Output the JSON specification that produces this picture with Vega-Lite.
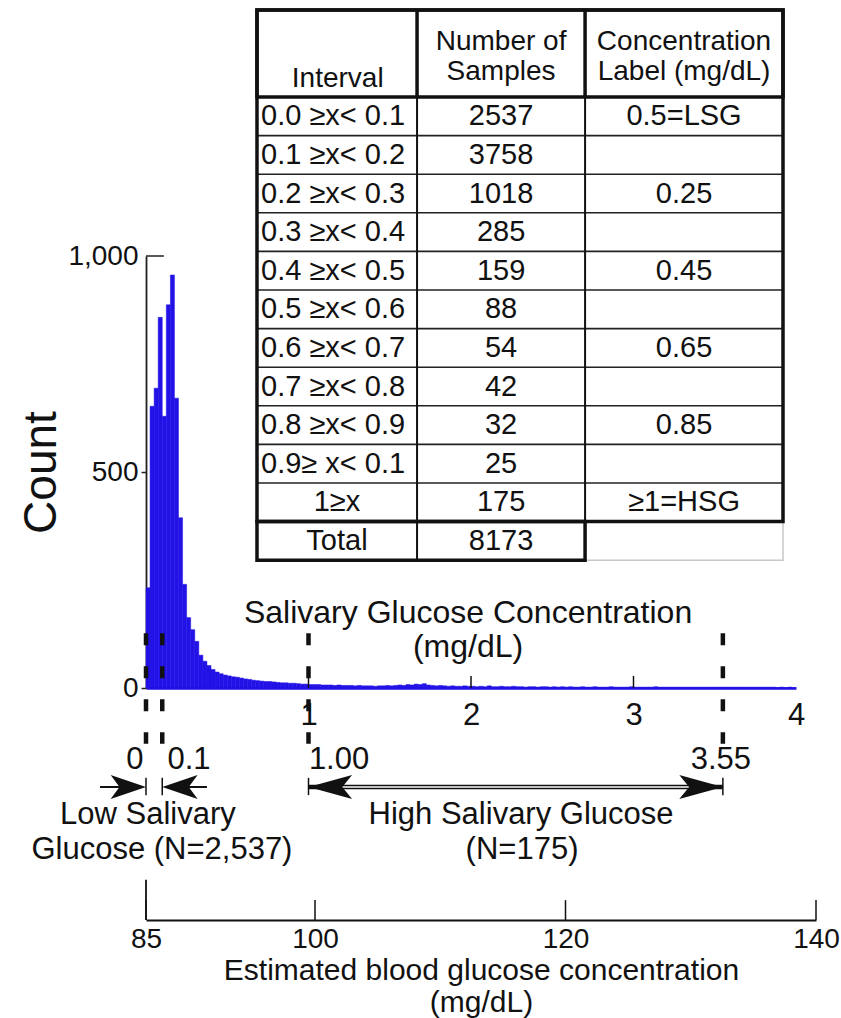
{
"$schema":"https://vega.github.io/schema/vega-lite/v6.json",
"width":650,"height":432,
"autosize":{"type":"none"},
"padding":{"left":146,"top":256,"right":45,"bottom":330},
"background":"#ffffff",
"config":{"view":{"stroke":null},"font":"Liberation Sans","text":{"font":"Liberation Sans","color":"#111111"},"axis":{"grid":false,"labelFont":"Liberation Sans","titleFont":"Liberation Sans","labelColor":"#111111","titleColor":"#111111","titleFontWeight":"normal"}},
"data":{"values":[{}]},
"datasets":{
"hist":[
{"s":0,"e":0.025,"c":232},{"s":0.025,"e":0.05,"c":652},{"s":0.05,"e":0.075,"c":694},{"s":0.075,"e":0.1,"c":858},
{"s":0.1,"e":0.125,"c":629},{"s":0.125,"e":0.15,"c":887},{"s":0.15,"e":0.175,"c":956},{"s":0.175,"e":0.2,"c":671},
{"s":0.2,"e":0.225,"c":394},{"s":0.225,"e":0.25,"c":240},{"s":0.25,"e":0.275,"c":163},{"s":0.275,"e":0.3,"c":135},
{"s":0.3,"e":0.325,"c":108},{"s":0.325,"e":0.35,"c":76},{"s":0.35,"e":0.375,"c":62},{"s":0.375,"e":0.4,"c":52},
{"s":0.4,"e":0.425,"c":43},{"s":0.425,"e":0.45,"c":37},{"s":0.45,"e":0.475,"c":33},{"s":0.475,"e":0.5,"c":30},
{"s":0.5,"e":0.525,"c":28},{"s":0.525,"e":0.55,"c":26},{"s":0.55,"e":0.575,"c":25},{"s":0.575,"e":0.6,"c":23},
{"s":0.6,"e":0.625,"c":21},{"s":0.625,"e":0.65,"c":20},{"s":0.65,"e":0.675,"c":18},{"s":0.675,"e":0.7,"c":17},
{"s":0.7,"e":0.725,"c":16},{"s":0.725,"e":0.75,"c":15},{"s":0.75,"e":0.775,"c":15},{"s":0.775,"e":0.8,"c":14},
{"s":0.8,"e":0.825,"c":13},{"s":0.825,"e":0.85,"c":12},{"s":0.85,"e":0.875,"c":12},{"s":0.875,"e":0.9,"c":11},
{"s":0.9,"e":0.925,"c":11},{"s":0.925,"e":0.95,"c":10},{"s":0.95,"e":0.975,"c":9},{"s":0.975,"e":1,"c":9},
{"s":1,"e":1.025,"c":8},{"s":1.025,"e":1.05,"c":8},{"s":1.05,"e":1.075,"c":8},{"s":1.075,"e":1.1,"c":7},
{"s":1.1,"e":1.125,"c":7},{"s":1.125,"e":1.15,"c":7},{"s":1.15,"e":1.175,"c":6},{"s":1.175,"e":1.2,"c":7},
{"s":1.2,"e":1.225,"c":6},{"s":1.225,"e":1.25,"c":6},{"s":1.25,"e":1.275,"c":6},{"s":1.275,"e":1.3,"c":5},
{"s":1.3,"e":1.325,"c":6},{"s":1.325,"e":1.35,"c":5},{"s":1.35,"e":1.375,"c":5},{"s":1.375,"e":1.4,"c":5},
{"s":1.4,"e":1.425,"c":4},{"s":1.425,"e":1.45,"c":5},{"s":1.45,"e":1.475,"c":5},{"s":1.475,"e":1.5,"c":6},
{"s":1.5,"e":1.525,"c":5},{"s":1.525,"e":1.55,"c":6},{"s":1.55,"e":1.575,"c":7},{"s":1.575,"e":1.6,"c":6},
{"s":1.6,"e":1.625,"c":8},{"s":1.625,"e":1.65,"c":7},{"s":1.65,"e":1.675,"c":9},{"s":1.675,"e":1.7,"c":8},
{"s":1.7,"e":1.725,"c":10},{"s":1.725,"e":1.75,"c":7},{"s":1.75,"e":1.775,"c":6},{"s":1.775,"e":1.8,"c":5},
{"s":1.8,"e":1.825,"c":6},{"s":1.825,"e":1.85,"c":5},{"s":1.85,"e":1.875,"c":4},{"s":1.875,"e":1.9,"c":5},
{"s":1.9,"e":1.925,"c":4},{"s":1.925,"e":1.95,"c":4},{"s":1.95,"e":1.975,"c":5},{"s":1.975,"e":2,"c":4},
{"s":2,"e":2.025,"c":4},{"s":2.025,"e":2.05,"c":3},{"s":2.05,"e":2.075,"c":4},{"s":2.075,"e":2.1,"c":3},
{"s":2.1,"e":2.125,"c":5},{"s":2.125,"e":2.15,"c":3},{"s":2.15,"e":2.175,"c":3},{"s":2.175,"e":2.2,"c":4},
{"s":2.2,"e":2.225,"c":3},{"s":2.225,"e":2.25,"c":3},{"s":2.25,"e":2.275,"c":4},{"s":2.275,"e":2.3,"c":3},
{"s":2.3,"e":2.325,"c":3},{"s":2.325,"e":2.35,"c":2},{"s":2.35,"e":2.375,"c":3},{"s":2.375,"e":2.4,"c":3},
{"s":2.4,"e":2.425,"c":2},{"s":2.425,"e":2.45,"c":3},{"s":2.45,"e":2.475,"c":3},{"s":2.475,"e":2.5,"c":2},
{"s":2.5,"e":2.525,"c":3},{"s":2.525,"e":2.55,"c":2},{"s":2.55,"e":2.575,"c":3},{"s":2.575,"e":2.6,"c":2},
{"s":2.6,"e":2.625,"c":3},{"s":2.625,"e":2.65,"c":2},{"s":2.65,"e":2.675,"c":2},{"s":2.675,"e":2.7,"c":3},
{"s":2.7,"e":2.725,"c":2},{"s":2.725,"e":2.75,"c":2},{"s":2.75,"e":2.775,"c":3},{"s":2.775,"e":2.8,"c":2},
{"s":2.8,"e":2.825,"c":2},{"s":2.825,"e":2.85,"c":2},{"s":2.85,"e":2.875,"c":3},{"s":2.875,"e":2.9,"c":2},
{"s":2.9,"e":2.925,"c":2},{"s":2.925,"e":2.95,"c":2},{"s":2.95,"e":2.975,"c":2},{"s":2.975,"e":3,"c":3},
{"s":3,"e":3.025,"c":2},{"s":3.025,"e":3.05,"c":2},{"s":3.05,"e":3.075,"c":2},{"s":3.075,"e":3.1,"c":2},
{"s":3.1,"e":3.125,"c":2},{"s":3.125,"e":3.15,"c":3},{"s":3.15,"e":3.175,"c":2},{"s":3.175,"e":3.2,"c":2},
{"s":3.2,"e":3.225,"c":2},{"s":3.225,"e":3.25,"c":2},{"s":3.25,"e":3.275,"c":2},{"s":3.275,"e":3.3,"c":2},
{"s":3.3,"e":3.325,"c":2},{"s":3.325,"e":3.35,"c":2},{"s":3.35,"e":3.375,"c":2},{"s":3.375,"e":3.4,"c":2},
{"s":3.4,"e":3.425,"c":2},{"s":3.425,"e":3.45,"c":2},{"s":3.45,"e":3.475,"c":2},{"s":3.475,"e":3.5,"c":2},
{"s":3.5,"e":3.525,"c":2},{"s":3.525,"e":3.55,"c":2},{"s":3.55,"e":3.575,"c":2},{"s":3.575,"e":3.6,"c":2},
{"s":3.6,"e":3.625,"c":2},{"s":3.625,"e":3.65,"c":2},{"s":3.65,"e":3.675,"c":2},{"s":3.675,"e":3.7,"c":2},
{"s":3.7,"e":3.725,"c":2},{"s":3.725,"e":3.75,"c":2},{"s":3.75,"e":3.775,"c":2},{"s":3.775,"e":3.8,"c":2},
{"s":3.8,"e":3.825,"c":2},{"s":3.825,"e":3.85,"c":2},{"s":3.85,"e":3.875,"c":2},{"s":3.875,"e":3.9,"c":1},
{"s":3.9,"e":3.925,"c":2},{"s":3.925,"e":3.95,"c":1},{"s":3.95,"e":3.975,"c":2},{"s":3.975,"e":4,"c":1}
],
"cuts":[{"v":0},{"v":0.1},{"v":1},{"v":3.55}],
"xticks":[{"t":1},{"t":2},{"t":3}],
"bticks":[{"bg":85},{"bg":100},{"bg":120},{"bg":140}],
"tbl":[
{"r":1,"interval":"0.0 ≥x< 0.1","n":"2537","label":"0.5=LSG"},
{"r":2,"interval":"0.1 ≥x< 0.2","n":"3758","label":""},
{"r":3,"interval":"0.2 ≥x< 0.3","n":"1018","label":"0.25"},
{"r":4,"interval":"0.3 ≥x< 0.4","n":"285","label":""},
{"r":5,"interval":"0.4 ≥x< 0.5","n":"159","label":"0.45"},
{"r":6,"interval":"0.5 ≥x< 0.6","n":"88","label":""},
{"r":7,"interval":"0.6 ≥x< 0.7","n":"54","label":"0.65"},
{"r":8,"interval":"0.7 ≥x< 0.8","n":"42","label":""},
{"r":9,"interval":"0.8 ≥x< 0.9","n":"32","label":"0.85"},
{"r":10,"interval":"0.9≥ x< 0.1","n":"25","label":""},
{"r":11,"interval":"1≥x","n":"175","label":"≥1=HSG"},
{"r":12,"interval":"Total","n":"8173","label":""}
]
},
"layer":[
{"layer":[
{"data":{"name":"hist"},"mark":{"type":"rect","color":"#2212e6","stroke":"#2212e6","strokeWidth":0.5},
 "encoding":{
  "x":{"field":"s","type":"quantitative","scale":{"domain":[0,4],"nice":false,"zero":false},
       "axis":{"values":[1,2,3,4],"labelExpr":"format(datum.value, 'd')","ticks":false,"domainColor":"#2212e6","domainWidth":2.5,"labelFontSize":31,"labelPadding":12,"labelFlush":false,"labelAngle":0,"title":null}},
  "x2":{"field":"e"},
  "y":{"field":"c","type":"quantitative","scale":{"domain":[0,1000],"nice":false,"zero":false},
       "axis":{"values":[0,500,1000],"labelExpr":"format(datum.value, ',')","tickSize":5,"tickWidth":1.5,"tickColor":"#222222","domainColor":"#222222","domainWidth":1.8,"labelFontSize":28,"labelPadding":3,"title":"Count","titleFontSize":46,"titlePadding":2,"tickOpacity":{"condition":{"test":"datum.value === 1000","value":0},"value":1}}},
  "y2":{"datum":0}
 }},
{"mark":{"type":"rule","color":"#222222","strokeWidth":1.5},"encoding":{"x":{"datum":0,"type":"quantitative","scale":{"domain":[0,4],"nice":false,"zero":false}},"x2":{"datum":0.11},"y":{"datum":1000,"type":"quantitative","scale":{"domain":[0,1000],"nice":false,"zero":false}}}},
{"data":{"name":"xticks"},"mark":{"type":"rule","color":"#111111","strokeWidth":1.5},"encoding":{"x":{"field":"t","type":"quantitative","title":null,"scale":{"domain":[0,4],"nice":false,"zero":false}},"y":{"datum":0,"type":"quantitative","scale":{"domain":[0,1000],"nice":false,"zero":false}},"y2":{"datum":28}}},
{"data":{"name":"cuts"},"mark":{"type":"rule","color":"#111111","strokeWidth":4.5,"strokeDash":[12,21]},"encoding":{"x":{"field":"v","type":"quantitative","title":null,"scale":{"domain":[0,4],"nice":false,"zero":false}},"y":{"datum":127,"type":"quantitative","scale":{"domain":[0,1000],"nice":false,"zero":false}},"y2":{"datum":-129}}},
{"data":{"name":"cuts"},"mark":{"type":"rule","color":"#111111","strokeWidth":1.5},"encoding":{"x":{"field":"v","type":"quantitative","title":null,"scale":{"domain":[0,4],"nice":false,"zero":false}},"y":{"datum":-208,"type":"quantitative","scale":{"domain":[0,1000],"nice":false,"zero":false}},"y2":{"datum":-248}}},
{"mark":{"type":"rule","color":"#111111","strokeWidth":2},"encoding":{"x":{"datum":-0.283,"type":"quantitative","scale":{"domain":[0,4],"nice":false,"zero":false}},"x2":{"datum":-0.03},"y":{"datum":-229.2,"type":"quantitative","scale":{"domain":[0,1000],"nice":false,"zero":false}}}},
{"mark":{"type":"rule","color":"#111111","strokeWidth":2},"encoding":{"x":{"datum":0.13,"type":"quantitative","scale":{"domain":[0,4],"nice":false,"zero":false}},"x2":{"datum":0.375},"y":{"datum":-229.2,"type":"quantitative","scale":{"domain":[0,1000],"nice":false,"zero":false}}}},
{"mark":{"type":"rule","color":"#111111","strokeWidth":4.5},"encoding":{"x":{"datum":1.0,"type":"quantitative","scale":{"domain":[0,4],"nice":false,"zero":false}},"x2":{"datum":3.55},"y":{"datum":-229.2,"type":"quantitative","scale":{"domain":[0,1000],"nice":false,"zero":false}}}},
{"mark":{"type":"rule","color":"#ffffff","strokeWidth":1.4},"encoding":{"x":{"datum":1.2,"type":"quantitative","scale":{"domain":[0,4],"nice":false,"zero":false}},"x2":{"datum":3.35},"y":{"datum":-229.2,"type":"quantitative","scale":{"domain":[0,1000],"nice":false,"zero":false}}}},
{"mark":{"type":"point","filled":true,"opacity":1,"color":"#111111","size":1250,"shape":"M0,0L-2,-0.68L-1.5,0L-2,0.68Z"},"encoding":{"x":{"datum":0,"type":"quantitative","scale":{"domain":[0,4],"nice":false,"zero":false}},"y":{"datum":-229.2,"type":"quantitative","scale":{"domain":[0,1000],"nice":false,"zero":false}}}},
{"mark":{"type":"point","filled":true,"opacity":1,"color":"#111111","size":1250,"shape":"M0,0L2,-0.68L1.5,0L2,0.68Z"},"encoding":{"x":{"datum":0.1,"type":"quantitative","scale":{"domain":[0,4],"nice":false,"zero":false}},"y":{"datum":-229.2,"type":"quantitative","scale":{"domain":[0,1000],"nice":false,"zero":false}}}},
{"mark":{"type":"point","filled":true,"opacity":1,"color":"#111111","size":1900,"shape":"M0,0L2,-0.55L1.55,0L2,0.55Z"},"encoding":{"x":{"datum":1.0,"type":"quantitative","scale":{"domain":[0,4],"nice":false,"zero":false}},"y":{"datum":-229.2,"type":"quantitative","scale":{"domain":[0,1000],"nice":false,"zero":false}}}},
{"mark":{"type":"point","filled":true,"opacity":1,"color":"#111111","size":1900,"shape":"M0,0L-2,-0.55L-1.55,0L-2,0.55Z"},"encoding":{"x":{"datum":3.55,"type":"quantitative","scale":{"domain":[0,4],"nice":false,"zero":false}},"y":{"datum":-229.2,"type":"quantitative","scale":{"domain":[0,1000],"nice":false,"zero":false}}}},
{"mark":{"type":"text","text":"Salivary Glucose Concentration","fontSize":32,"align":"center","baseline":"middle"},"encoding":{"x":{"datum":1.982,"type":"quantitative","scale":{"domain":[0,4],"nice":false,"zero":false}},"y":{"datum":172.5,"type":"quantitative","scale":{"domain":[0,1000],"nice":false,"zero":false}}}},
{"mark":{"type":"text","text":"(mg/dL)","fontSize":32,"align":"center","baseline":"middle"},"encoding":{"x":{"datum":1.982,"type":"quantitative","scale":{"domain":[0,4],"nice":false,"zero":false}},"y":{"datum":94,"type":"quantitative","scale":{"domain":[0,1000],"nice":false,"zero":false}}}},
{"mark":{"type":"text","text":"0","fontSize":31,"align":"center","baseline":"middle"},"encoding":{"x":{"datum":-0.068,"type":"quantitative","scale":{"domain":[0,4],"nice":false,"zero":false}},"y":{"datum":-166.7,"type":"quantitative","scale":{"domain":[0,1000],"nice":false,"zero":false}}}},
{"mark":{"type":"text","text":"0.1","fontSize":31,"align":"center","baseline":"middle"},"encoding":{"x":{"datum":0.265,"type":"quantitative","scale":{"domain":[0,4],"nice":false,"zero":false}},"y":{"datum":-166.7,"type":"quantitative","scale":{"domain":[0,1000],"nice":false,"zero":false}}}},
{"mark":{"type":"text","text":"1.00","fontSize":31,"align":"center","baseline":"middle"},"encoding":{"x":{"datum":1.188,"type":"quantitative","scale":{"domain":[0,4],"nice":false,"zero":false}},"y":{"datum":-166.7,"type":"quantitative","scale":{"domain":[0,1000],"nice":false,"zero":false}}}},
{"mark":{"type":"text","text":"3.55","fontSize":31,"align":"center","baseline":"middle"},"encoding":{"x":{"datum":3.538,"type":"quantitative","scale":{"domain":[0,4],"nice":false,"zero":false}},"y":{"datum":-166.7,"type":"quantitative","scale":{"domain":[0,1000],"nice":false,"zero":false}}}},
{"mark":{"type":"text","text":"Low Salivary","fontSize":31,"align":"center","baseline":"middle"},"encoding":{"x":{"datum":0.012,"type":"quantitative","scale":{"domain":[0,4],"nice":false,"zero":false}},"y":{"datum":-294,"type":"quantitative","scale":{"domain":[0,1000],"nice":false,"zero":false}}}},
{"mark":{"type":"text","text":"Glucose (N=2,537)","fontSize":31,"align":"center","baseline":"middle"},"encoding":{"x":{"datum":0.098,"type":"quantitative","scale":{"domain":[0,4],"nice":false,"zero":false}},"y":{"datum":-375,"type":"quantitative","scale":{"domain":[0,1000],"nice":false,"zero":false}}}},
{"mark":{"type":"text","text":"High Salivary Glucose","fontSize":31,"align":"center","baseline":"middle"},"encoding":{"x":{"datum":2.308,"type":"quantitative","scale":{"domain":[0,4],"nice":false,"zero":false}},"y":{"datum":-294,"type":"quantitative","scale":{"domain":[0,1000],"nice":false,"zero":false}}}},
{"mark":{"type":"text","text":"(N=175)","fontSize":31,"align":"center","baseline":"middle"},"encoding":{"x":{"datum":2.314,"type":"quantitative","scale":{"domain":[0,4],"nice":false,"zero":false}},"y":{"datum":-375,"type":"quantitative","scale":{"domain":[0,1000],"nice":false,"zero":false}}}}
]},
{"layer":[
{"mark":{"type":"rect","fillOpacity":0,"stroke":"#c8c8c8","strokeWidth":1.5},"encoding":{"x":{"datum":2.702,"type":"quantitative","scale":{"domain":[0,4],"nice":false,"zero":false},"axis":null},"x2":{"datum":3.92},"y":{"datum":11.5,"type":"quantitative","scale":{"domain":[4.619,15.811],"reverse":true,"nice":false,"zero":false},"axis":null},"y2":{"datum":12.5}}},
{"data":{"name":"tbl"},"transform":[{"filter":"datum.r <= 10"}],"mark":{"type":"rule","color":"#222222","strokeWidth":1.6,"yOffset":19.3,"y2Offset":19.3},"encoding":{"x":{"datum":0.683,"type":"quantitative","scale":{"domain":[0,4],"nice":false,"zero":false},"axis":null},"x2":{"datum":3.92},"y":{"field":"r","type":"quantitative","scale":{"domain":[4.619,15.811],"reverse":true,"nice":false,"zero":false},"axis":null},"y2":{"field":"r"}}},
{"mark":{"type":"rule","color":"#111111","strokeWidth":2},"encoding":{"x":{"datum":1.668,"type":"quantitative","scale":{"domain":[0,4],"nice":false,"zero":false},"axis":null},"y":{"datum":0.5,"type":"quantitative","scale":{"domain":[4.619,15.811],"reverse":true,"nice":false,"zero":false},"axis":null},"y2":{"datum":12.5}}},
{"mark":{"type":"rule","color":"#111111","strokeWidth":2},"encoding":{"x":{"datum":2.702,"type":"quantitative","scale":{"domain":[0,4],"nice":false,"zero":false},"axis":null},"y":{"datum":0.5,"type":"quantitative","scale":{"domain":[4.619,15.811],"reverse":true,"nice":false,"zero":false},"axis":null},"y2":{"datum":11.5}}},
{"mark":{"type":"rect","fillOpacity":0,"stroke":"#111111","strokeWidth":3.5},"encoding":{"x":{"datum":0.683,"type":"quantitative","scale":{"domain":[0,4],"nice":false,"zero":false},"axis":null},"x2":{"datum":3.92},"y":{"datum":-1.754,"type":"quantitative","scale":{"domain":[4.619,15.811],"reverse":true,"nice":false,"zero":false},"axis":null},"y2":{"datum":11.5}}},
{"mark":{"type":"rect","fillOpacity":0,"stroke":"#111111","strokeWidth":3.5},"encoding":{"x":{"datum":0.683,"type":"quantitative","scale":{"domain":[0,4],"nice":false,"zero":false},"axis":null},"x2":{"datum":3.92},"y":{"datum":-1.754,"type":"quantitative","scale":{"domain":[4.619,15.811],"reverse":true,"nice":false,"zero":false},"axis":null},"y2":{"datum":0.5}}},
{"mark":{"type":"rect","fillOpacity":0,"stroke":"#111111","strokeWidth":3.5},"encoding":{"x":{"datum":0.683,"type":"quantitative","scale":{"domain":[0,4],"nice":false,"zero":false},"axis":null},"x2":{"datum":2.702},"y":{"datum":11.5,"type":"quantitative","scale":{"domain":[4.619,15.811],"reverse":true,"nice":false,"zero":false},"axis":null},"y2":{"datum":12.5}}},
{"mark":{"type":"rule","color":"#111111","strokeWidth":3.5},"encoding":{"x":{"datum":1.668,"type":"quantitative","scale":{"domain":[0,4],"nice":false,"zero":false},"axis":null},"y":{"datum":-1.754,"type":"quantitative","scale":{"domain":[4.619,15.811],"reverse":true,"nice":false,"zero":false},"axis":null},"y2":{"datum":0.5}}},
{"mark":{"type":"rule","color":"#111111","strokeWidth":3.5},"encoding":{"x":{"datum":2.702,"type":"quantitative","scale":{"domain":[0,4],"nice":false,"zero":false},"axis":null},"y":{"datum":-1.754,"type":"quantitative","scale":{"domain":[4.619,15.811],"reverse":true,"nice":false,"zero":false},"axis":null},"y2":{"datum":0.5}}},
{"mark":{"type":"text","text":"Interval","fontSize":28,"align":"center","baseline":"alphabetic"},"encoding":{"x":{"datum":1.18,"type":"quantitative","scale":{"domain":[0,4],"nice":false,"zero":false},"axis":null},"y":{"datum":0.24,"type":"quantitative","scale":{"domain":[4.619,15.811],"reverse":true,"nice":false,"zero":false},"axis":null}}},
{"mark":{"type":"text","text":"Number of","fontSize":28,"align":"center","baseline":"alphabetic"},"encoding":{"x":{"datum":2.185,"type":"quantitative","scale":{"domain":[0,4],"nice":false,"zero":false},"axis":null},"y":{"datum":-0.718,"type":"quantitative","scale":{"domain":[4.619,15.811],"reverse":true,"nice":false,"zero":false},"axis":null}}},
{"mark":{"type":"text","text":"Samples","fontSize":28,"align":"center","baseline":"alphabetic"},"encoding":{"x":{"datum":2.185,"type":"quantitative","scale":{"domain":[0,4],"nice":false,"zero":false},"axis":null},"y":{"datum":0.06,"type":"quantitative","scale":{"domain":[4.619,15.811],"reverse":true,"nice":false,"zero":false},"axis":null}}},
{"mark":{"type":"text","text":"Concentration","fontSize":28,"align":"center","baseline":"alphabetic"},"encoding":{"x":{"datum":3.311,"type":"quantitative","scale":{"domain":[0,4],"nice":false,"zero":false},"axis":null},"y":{"datum":-0.718,"type":"quantitative","scale":{"domain":[4.619,15.811],"reverse":true,"nice":false,"zero":false},"axis":null}}},
{"mark":{"type":"text","text":"Label (mg/dL)","fontSize":28,"align":"center","baseline":"alphabetic"},"encoding":{"x":{"datum":3.311,"type":"quantitative","scale":{"domain":[0,4],"nice":false,"zero":false},"axis":null},"y":{"datum":0.06,"type":"quantitative","scale":{"domain":[4.619,15.811],"reverse":true,"nice":false,"zero":false},"axis":null}}},
{"data":{"name":"tbl"},"transform":[{"filter":"datum.r <= 10"}],"mark":{"type":"text","align":"left","baseline":"middle","fontSize":29},"encoding":{"x":{"datum":0.708,"type":"quantitative","scale":{"domain":[0,4],"nice":false,"zero":false},"axis":null},"y":{"field":"r","type":"quantitative","scale":{"domain":[4.619,15.811],"reverse":true,"nice":false,"zero":false},"axis":null},"text":{"field":"interval"}}},
{"data":{"name":"tbl"},"transform":[{"filter":"datum.r > 10"}],"mark":{"type":"text","align":"center","baseline":"middle","fontSize":29},"encoding":{"x":{"datum":1.175,"type":"quantitative","scale":{"domain":[0,4],"nice":false,"zero":false},"axis":null},"y":{"field":"r","type":"quantitative","scale":{"domain":[4.619,15.811],"reverse":true,"nice":false,"zero":false},"axis":null},"text":{"field":"interval"}}},
{"data":{"name":"tbl"},"mark":{"type":"text","align":"center","baseline":"middle","fontSize":29},"encoding":{"x":{"datum":2.185,"type":"quantitative","scale":{"domain":[0,4],"nice":false,"zero":false},"axis":null},"y":{"field":"r","type":"quantitative","scale":{"domain":[4.619,15.811],"reverse":true,"nice":false,"zero":false},"axis":null},"text":{"field":"n"}}},
{"data":{"name":"tbl"},"mark":{"type":"text","align":"center","baseline":"middle","fontSize":29},"encoding":{"x":{"datum":3.311,"type":"quantitative","scale":{"domain":[0,4],"nice":false,"zero":false},"axis":null},"y":{"field":"r","type":"quantitative","scale":{"domain":[4.619,15.811],"reverse":true,"nice":false,"zero":false},"axis":null},"text":{"field":"label"}}}
]},
{"layer":[
{"data":{"name":"bticks"},"mark":{"type":"rule","color":"#111111","strokeWidth":1.5},"encoding":{
  "x":{"field":"bg","type":"quantitative","scale":{"domain":[85,100,140],"range":[0,169,670],"nice":false,"zero":false},
       "axis":{"orient":"bottom","offset":232,"values":[85,100,120,140],"labelExpr":"format(datum.value, 'd')","ticks":false,"domainColor":"#111111","domainWidth":2,"labelFontSize":28,"labelPadding":5,"labelFlush":false,"labelAngle":0,"title":["Estimated blood glucose concentration","(mg/dL)"],"titleFontSize":30,"titlePadding":2,"titleLineHeight":32}},
  "y":{"datum":-537,"type":"quantitative","scale":{"domain":[0,1000],"nice":false,"zero":false},"axis":null},"y2":{"datum":-491}}},
{"mark":{"type":"rule","color":"#111111","strokeWidth":1.8},"encoding":{"x":{"datum":85,"type":"quantitative","scale":{"domain":[85,100,140],"range":[0,169,670],"nice":false,"zero":false}},"y":{"datum":-537,"type":"quantitative","scale":{"domain":[0,1000],"nice":false,"zero":false},"axis":null},"y2":{"datum":-444}}}
]}
],
"resolve":{"scale":{"x":"independent","y":"independent"},"axis":{"x":"independent","y":"independent"}}
}
